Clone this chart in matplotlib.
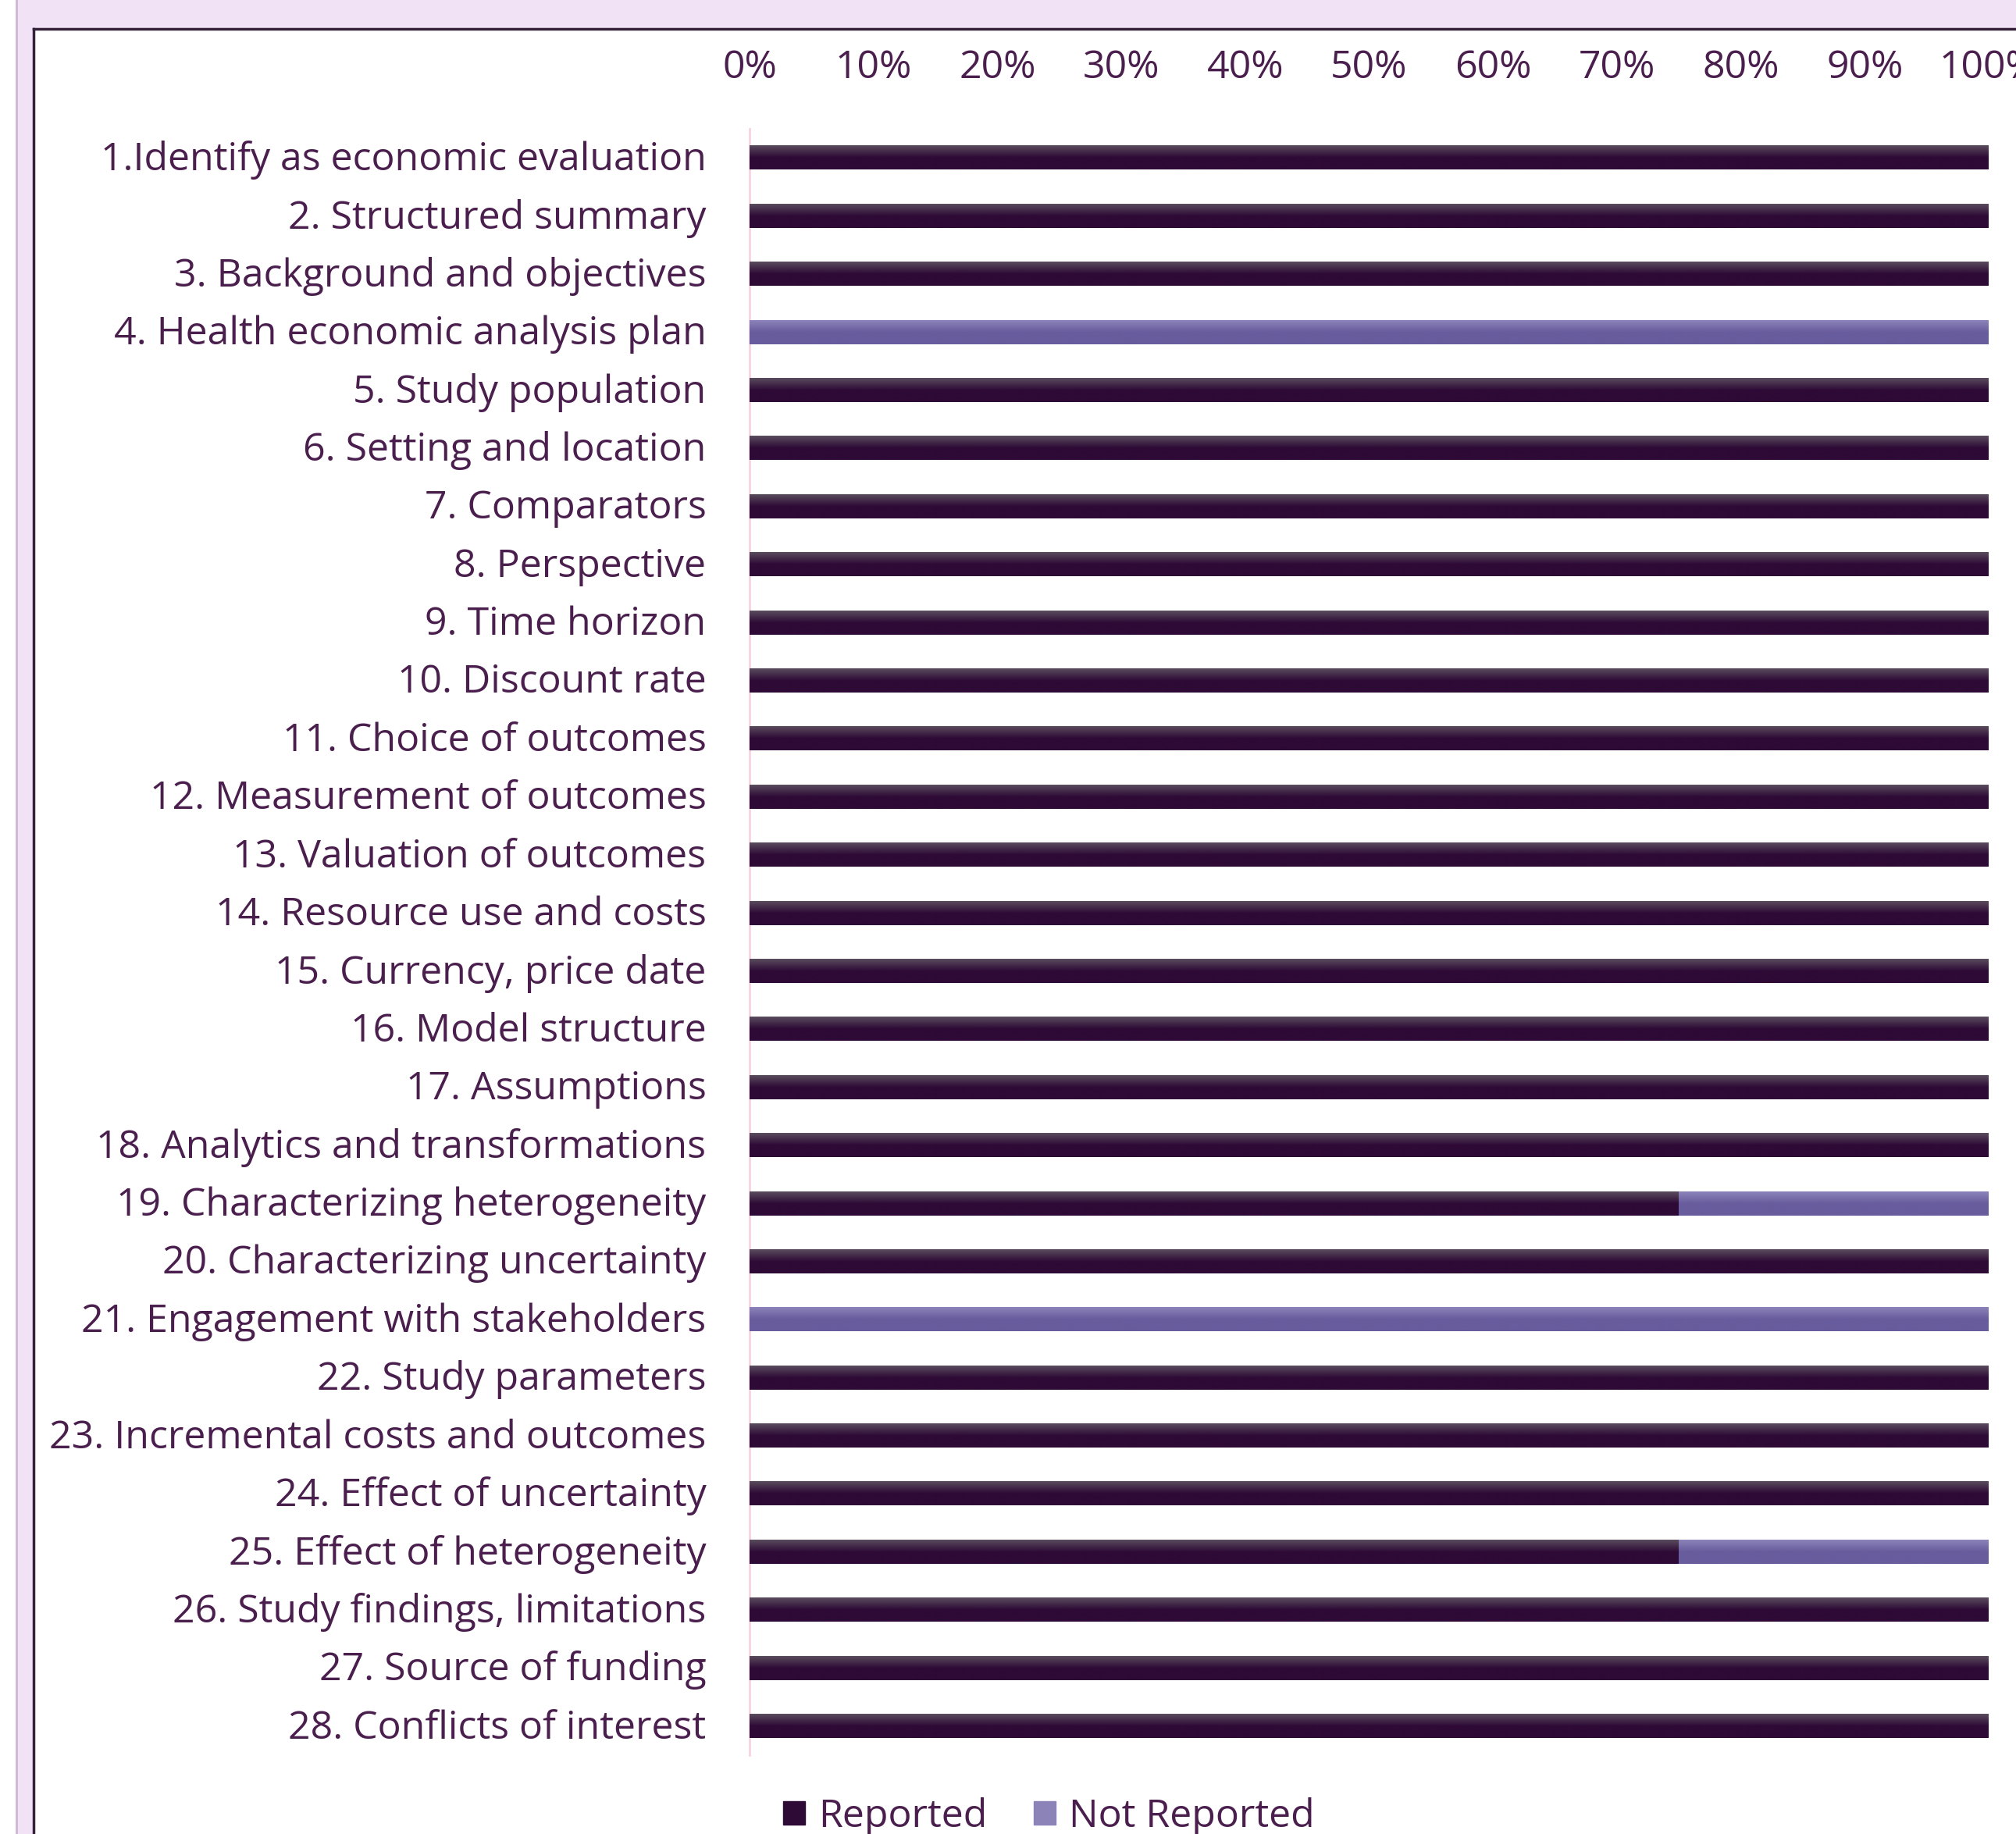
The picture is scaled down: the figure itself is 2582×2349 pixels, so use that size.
import numpy as np
import matplotlib.pyplot as plt
import matplotlib.transforms as mtransforms
from matplotlib.patches import Rectangle
from matplotlib.colors import LinearSegmentedColormap

# %%
# data

items = [
    '1.Identify as economic evaluation', '2. Structured summary',
    '3. Background and objectives', '4. Health economic analysis plan',
    '5. Study population', '6. Setting and location', '7. Comparators',
    '8. Perspective', '9. Time horizon', '10. Discount rate',
    '11. Choice of outcomes', '12. Measurement of outcomes',
    '13. Valuation of outcomes', '14. Resource use and costs',
    '15. Currency, price date', '16. Model structure', '17. Assumptions',
    '18. Analytics and transformations', '19. Characterizing heterogeneity',
    '20. Characterizing uncertainty', '21. Engagement with stakeholders',
    '22. Study parameters', '23. Incremental costs and outcomes',
    '24. Effect of uncertainty', '25. Effect of heterogeneity',
    '26. Study findings, limitations', '27. Source of funding',
    '28. Conflicts of interest',
]
reported = [1, 1, 1, 0, 1, 1, 1, 1, 1, 1, 1, 1, 1, 1,
            1, 1, 1, 1, 0.75, 1, 0, 1, 1, 1, 0.75, 1, 1, 1]
not_reported = [1 - r for r in reported]

series = ['Reported', 'Not Reported']
ticks = np.arange(0, 1.01, 0.1)

# %%
# style

txt = '#4A1F4E'
lav = '#F1E3F5'
rep_top, rep_bot = '#5A4C5D', '#2E0A36'
nrep_top, nrep_bot = '#8C83B9', '#685C9D'
fs = 36
plt.rcParams['font.family'] = ['Open Sans', 'DejaVu Sans']

W, H = 2582, 2349
fig = plt.figure(figsize=(W / 100, H / 100), dpi=100, facecolor='white')

# frame around the chart area
fig.patches.append(Rectangle((20 / W, 0), 22 / W, 1, transform=fig.transFigure,
                             facecolor=lav, edgecolor='none', zorder=0))
fig.patches.append(Rectangle((20 / W, 1 - 37 / H), 1, 37 / H, transform=fig.transFigure,
                             facecolor=lav, edgecolor='none', zorder=0))
fig.add_artist(plt.Line2D([20.5 / W, 20.5 / W], [0, 1], transform=fig.transFigure,
                          color='#CDB9D2', lw=2))
fig.add_artist(plt.Line2D([43 / W, 43 / W], [0, 1 - 37 / H], transform=fig.transFigure,
                          color='#35213A', lw=2.5))
fig.add_artist(plt.Line2D([43 / W, 1], [1 - 37 / H, 1 - 37 / H], transform=fig.transFigure,
                          color='#35213A', lw=2.5))

ax = fig.add_axes([960 / W, 101 / H, 1587 / W, 2083 / H])
y = np.arange(len(items))
bh = 0.41

b1 = ax.barh(y, reported, height=bh, color=rep_bot, label=series[0])
b2 = ax.barh(y, not_reported, left=reported, height=bh, color=nrep_bot, label=series[1])


def shade(bars, top, bot):
    cmap = LinearSegmentedColormap.from_list('g', [top, bot, bot], N=256)
    grad = np.linspace(0, 1, 64).reshape(-1, 1)
    for b in bars:
        if b.get_width() <= 0:
            continue
        x0, y0 = b.get_x(), b.get_y()
        ax.imshow(grad, cmap=cmap, aspect='auto', interpolation='bilinear',
                  extent=[x0, x0 + b.get_width(), y0 + b.get_height(), y0], zorder=3)


shade(b1, rep_top, rep_bot)
shade(b2, nrep_top, nrep_bot)

ax.set_xlim(0, 1)
ax.set_ylim(len(items) - 0.5, -0.5)
ax.set_xticks(ticks)
ax.set_xticklabels([f'{int(round(t * 100))}%' for t in ticks])
ax.set_yticks(y)
ax.set_yticklabels(items)
ax.xaxis.tick_top()
ax.tick_params(axis='both', length=0, labelsize=fs, labelcolor=txt)
ax.tick_params(axis='x', pad=38)
ax.tick_params(axis='y', pad=40)
for s in ['top', 'right', 'bottom']:
    ax.spines[s].set_visible(False)
ax.spines['left'].set_color('#F7D3E3')
ax.spines['left'].set_linewidth(2)
for lab in ax.get_xticklabels():
    lab.set_clip_on(False)
# nudge category labels up a little
up = mtransforms.ScaledTranslation(0, 3 / 100, fig.dpi_scale_trans)
for lab in ax.get_yticklabels():
    lab.set_transform(lab.get_transform() + up)

leg = ax.legend(handles=[Rectangle((0, 0), 1, 1, color=rep_bot),
                         Rectangle((0, 0), 1, 1, color=nrep_top)],
                labels=series, loc='center left', ncol=2, frameon=False,
                bbox_to_anchor=(958 / W, 22 / H), bbox_transform=fig.transFigure,
                fontsize=fs, handlelength=0.55, handleheight=0.55,
                handletextpad=0.35, columnspacing=1.2)
for t in leg.get_texts():
    t.set_color(txt)

fig.savefig('out.png', dpi=100, facecolor='white')
